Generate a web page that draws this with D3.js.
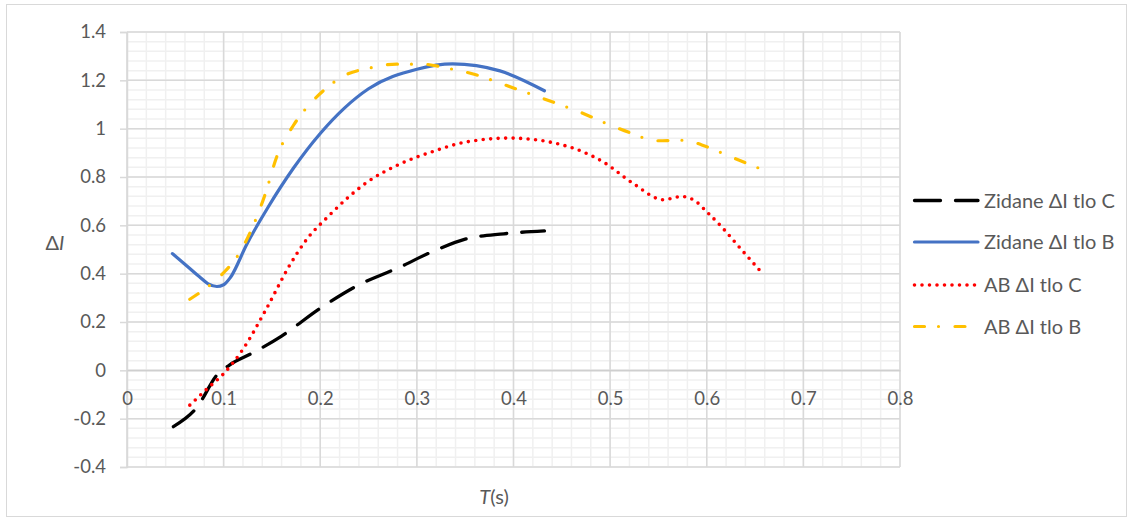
<!DOCTYPE html>
<html>
<head>
<meta charset="utf-8">
<script src="https://cdn.jsdelivr.net/npm/d3@7"></script>
<style>
  html, body { margin: 0; padding: 0; background: #fff; }
  svg { display: block; }
  text { font-family: Lato, "Open Sans", sans-serif; fill: #595959; }
</style>
</head>
<body>
<svg id="chart" width="1132" height="520"></svg>
<script>
// ---- data ----
const xTicks = [0, 0.1, 0.2, 0.3, 0.4, 0.5, 0.6, 0.7, 0.8];
const yTicks = [-0.4, -0.2, 0, 0.2, 0.4, 0.6, 0.8, 1, 1.2, 1.4];

const zidaneC_T = [0.048, 0.072, 0.094, 0.106, 0.13, 0.16, 0.2, 0.24, 0.28, 0.32, 0.35, 0.39, 0.432];
const zidaneC_V = [-0.233, -0.155, -0.015, 0.022, 0.072, 0.142, 0.257, 0.354, 0.423, 0.498, 0.543, 0.565, 0.577];

const zidaneB_T = [0.047, 0.062, 0.075, 0.084, 0.093, 0.1, 0.107, 0.124, 0.146, 0.172, 0.2, 0.225, 0.25, 0.3, 0.337, 0.386, 0.432];
const zidaneB_V = [0.483, 0.432, 0.387, 0.358, 0.347, 0.354, 0.384, 0.522, 0.675, 0.835, 0.98, 1.085, 1.165, 1.246, 1.268, 1.239, 1.157];

const abC_T = [0.065, 0.083, 0.1, 0.12, 0.144, 0.169, 0.186, 0.207, 0.248, 0.282, 0.317, 0.351, 0.396, 0.443, 0.472, 0.493, 0.525, 0.555, 0.574, 0.588, 0.599, 0.616, 0.631, 0.657];
const abC_V = [-0.144, -0.076, -0.014, 0.087, 0.253, 0.439, 0.542, 0.632, 0.777, 0.853, 0.906, 0.945, 0.961, 0.94, 0.904, 0.862, 0.77, 0.706, 0.719, 0.701, 0.66, 0.591, 0.522, 0.404];

const abB_T = [0.065, 0.088, 0.1, 0.116, 0.129, 0.143, 0.155, 0.172, 0.189, 0.205, 0.225, 0.25, 0.279, 0.305, 0.332, 0.362, 0.387, 0.413, 0.443, 0.468, 0.494, 0.522, 0.548, 0.575, 0.6, 0.624, 0.658];
const abB_V = [0.294, 0.36, 0.404, 0.483, 0.584, 0.729, 0.884, 1.012, 1.101, 1.163, 1.22, 1.25, 1.267, 1.267, 1.25, 1.222, 1.187, 1.15, 1.107, 1.07, 1.025, 0.981, 0.95, 0.952, 0.925, 0.885, 0.83];

const seriesNames = ["Zidane \u0394I tlo C", "Zidane \u0394I tlo B", "AB \u0394I tlo C", "AB \u0394I tlo B"];

// ---- styles ----
const styles = [
  { color: "#000000", width: 3.3, dash: "26 15", cap: "round" },
  { color: "#4472C4", width: 3.2, dash: null, cap: "round" },
  { color: "#FF0000", width: 3.6, dash: "0 7.5", cap: "round" },
  { color: "#FFC000", width: 3.2, dash: "10 14 0 16.5", cap: "round" }
];
const series = [
  zidaneC_T.map((t, i) => [t, zidaneC_V[i]]),
  zidaneB_T.map((t, i) => [t, zidaneB_V[i]]),
  abC_T.map((t, i) => [t, abC_V[i]]),
  abB_T.map((t, i) => [t, abB_V[i]])
];

const svg = d3.select("#chart");
const x = d3.scaleLinear().domain([0, 0.8]).range([127, 900]);
const y = d3.scaleLinear().domain([-0.4, 1.4]).range([467, 32]);

// outer border
svg.append("rect").attr("x", 6.5).attr("y", 4.5).attr("width", 1120).attr("height", 512)
  .attr("fill", "none").attr("stroke", "#D9D9D9").attr("stroke-width", 1);

// minor grid
const minorX = d3.range(0, 0.8001, 0.02);
const minorY = d3.range(-0.4, 1.4001, 0.04);
const g = svg.append("g");
g.selectAll(".mx").data(minorX).join("line")
  .attr("x1", d => x(d)).attr("x2", d => x(d)).attr("y1", y(1.4)).attr("y2", y(-0.4))
  .attr("stroke", "#F0F0F0").attr("stroke-width", 1.5);
g.selectAll(".my").data(minorY).join("line")
  .attr("y1", d => y(d)).attr("y2", d => y(d)).attr("x1", x(0)).attr("x2", x(0.8))
  .attr("stroke", "#F0F0F0").attr("stroke-width", 1.5);
// major grid
g.selectAll(".Mx").data(xTicks).join("line")
  .attr("x1", d => x(d)).attr("x2", d => x(d)).attr("y1", y(1.4)).attr("y2", y(-0.4))
  .attr("stroke", "#D9D9D9").attr("stroke-width", 1.5);
g.selectAll(".My").data(yTicks).join("line")
  .attr("y1", d => y(d)).attr("y2", d => y(d)).attr("x1", x(0)).attr("x2", x(0.8))
  .attr("stroke", "#D9D9D9").attr("stroke-width", 1.5);

const fmt = d => String(+d.toFixed(1));

// y axis
const yAxis = svg.append("g").attr("transform", `translate(${x(0)},0)`)
  .call(d3.axisLeft(y).tickValues(yTicks).tickFormat(fmt).tickSize(7).tickPadding(14));
yAxis.select(".domain").attr("stroke", "#D9D9D9").attr("stroke-width", 1.5);
yAxis.selectAll(".tick line").attr("stroke", "#D9D9D9").attr("stroke-width", 1.5);
yAxis.selectAll(".tick text").style("font-size", "18.5px").attr("fill", "#595959")
  .style("font-family", "Lato, sans-serif");

// x axis at y=0
const xAxis = svg.append("g").attr("transform", `translate(0,${y(0)})`)
  .call(d3.axisBottom(x).tickValues(xTicks).tickFormat(fmt).tickSize(0).tickPadding(22));
xAxis.select(".domain").attr("stroke", "#CFCFCF").attr("stroke-width", 1.5);
xAxis.selectAll(".tick text").style("font-size", "18.5px").attr("fill", "#595959")
  .style("font-family", "Lato, sans-serif");

// lines
const line = d3.line().x(d => x(d[0])).y(d => y(d[1])).curve(d3.curveMonotoneX);
const plot = svg.append("g");
series.forEach((s, i) => {
  const st = styles[i];
  plot.append("path").datum(s).attr("d", line)
    .attr("fill", "none").attr("stroke", st.color).attr("stroke-width", st.width)
    .attr("stroke-linecap", st.cap).attr("stroke-linejoin", "round")
    .attr("stroke-dasharray", st.dash);
});

// axis titles
const yt = svg.append("text").attr("x", 55).attr("y", 250).attr("text-anchor", "middle")
  .style("font-size", "20px");
yt.append("tspan").text("\u0394");
yt.append("tspan").attr("font-style", "italic").text("I");

const xt = svg.append("text").attr("x", 494).attr("y", 504).attr("text-anchor", "middle")
  .style("font-size", "20px");
xt.append("tspan").attr("font-style", "italic").text("T");
xt.append("tspan").text("(s)");

// legend
const legendY = [200.5, 242, 285, 326.5];
const leg = svg.append("g");
seriesNames.forEach((name, i) => {
  const st = styles[i];
  leg.append("line").attr("x1", 914.5).attr("x2", 978).attr("y1", legendY[i]).attr("y2", legendY[i])
    .attr("stroke", st.color).attr("stroke-width", st.width)
    .attr("stroke-linecap", st.cap).attr("stroke-dasharray", st.dash);
  leg.append("text").attr("x", 984).attr("y", legendY[i]).attr("dy", "0.35em")
    .style("font-size", "20px").text(name);
});
</script>
</body>
</html>
